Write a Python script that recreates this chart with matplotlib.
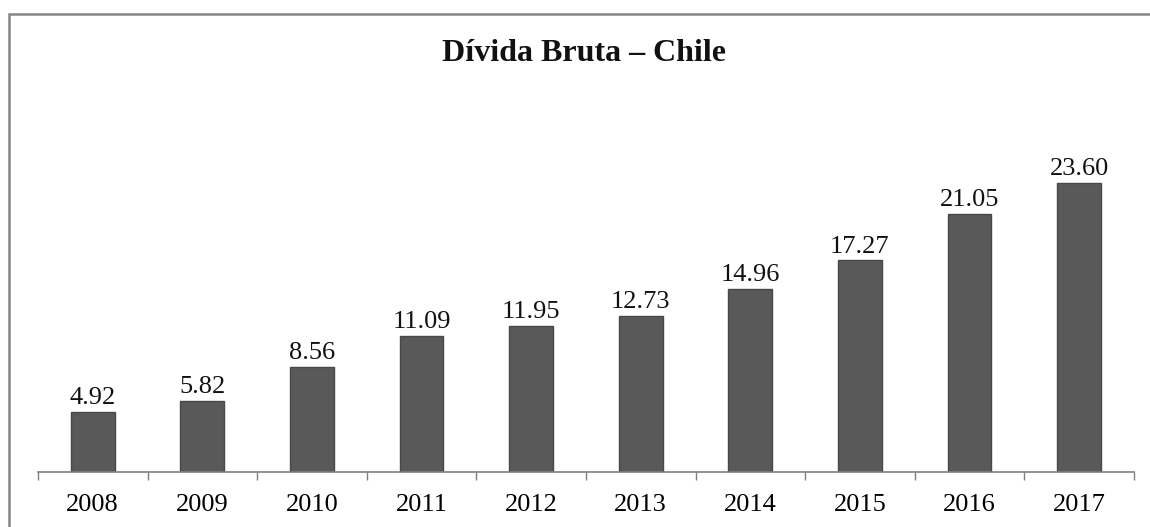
import matplotlib.pyplot as plt
from matplotlib.patches import Rectangle
import numpy as np

# dados
anos = ["2008", "2009", "2010", "2011", "2012", "2013", "2014", "2015", "2016", "2017"]
divida = [4.92, 5.82, 8.56, 11.09, 11.95, 12.73, 14.96, 17.27, 21.05, 23.60]

plt.rcParams["font.family"] = ["Liberation Serif", "DejaVu Serif"]

fig = plt.figure(figsize=(11.5, 5.27), dpi=100)
ax = fig.add_axes([0.033, 0.1044, 0.953, 0.6973])

x = np.arange(len(anos))
bars = ax.bar(x, divida, width=0.4, color="#595959", edgecolor="#484848",
              linewidth=1.0)

for xi, v in zip(x, divida):
    ax.annotate(f"{v:.2f}", (xi, v), xytext=(0, 2), textcoords="offset points",
                ha="center", va="bottom", fontsize=19, color="#111111")

ax.set_xlim(-0.5, len(anos) - 0.5)
ax.set_ylim(0, 30)
ax.set_yticks([])
for s in ["top", "right", "left"]:
    ax.spines[s].set_visible(False)
ax.spines["bottom"].set_color("#7f7f7f")
ax.spines["bottom"].set_linewidth(1.2)

# marcas entre categorias
ax.set_xticks(np.arange(-0.5, len(anos)), minor=False)
ax.set_xticklabels([])
ax.tick_params(axis="x", length=6, color="#7f7f7f", width=1.0, direction="out")
ax.set_xticks(x, minor=True)
ax.set_xticklabels(anos, minor=True, fontsize=19)
ax.tick_params(axis="x", which="minor", length=0, pad=16)

fig.text(0.508, 0.899, "Dívida Bruta – Chile", ha="center", va="center",
         fontsize=23, fontweight="bold", color="#111111")

# moldura do gráfico
fig.patches.append(Rectangle((9 / 1150, -0.05), 1.2, 1.05 - 14 / 527,
                             transform=fig.transFigure, fill=False,
                             edgecolor="#858585", linewidth=1.8))

fig.savefig("out.png", dpi=100)
